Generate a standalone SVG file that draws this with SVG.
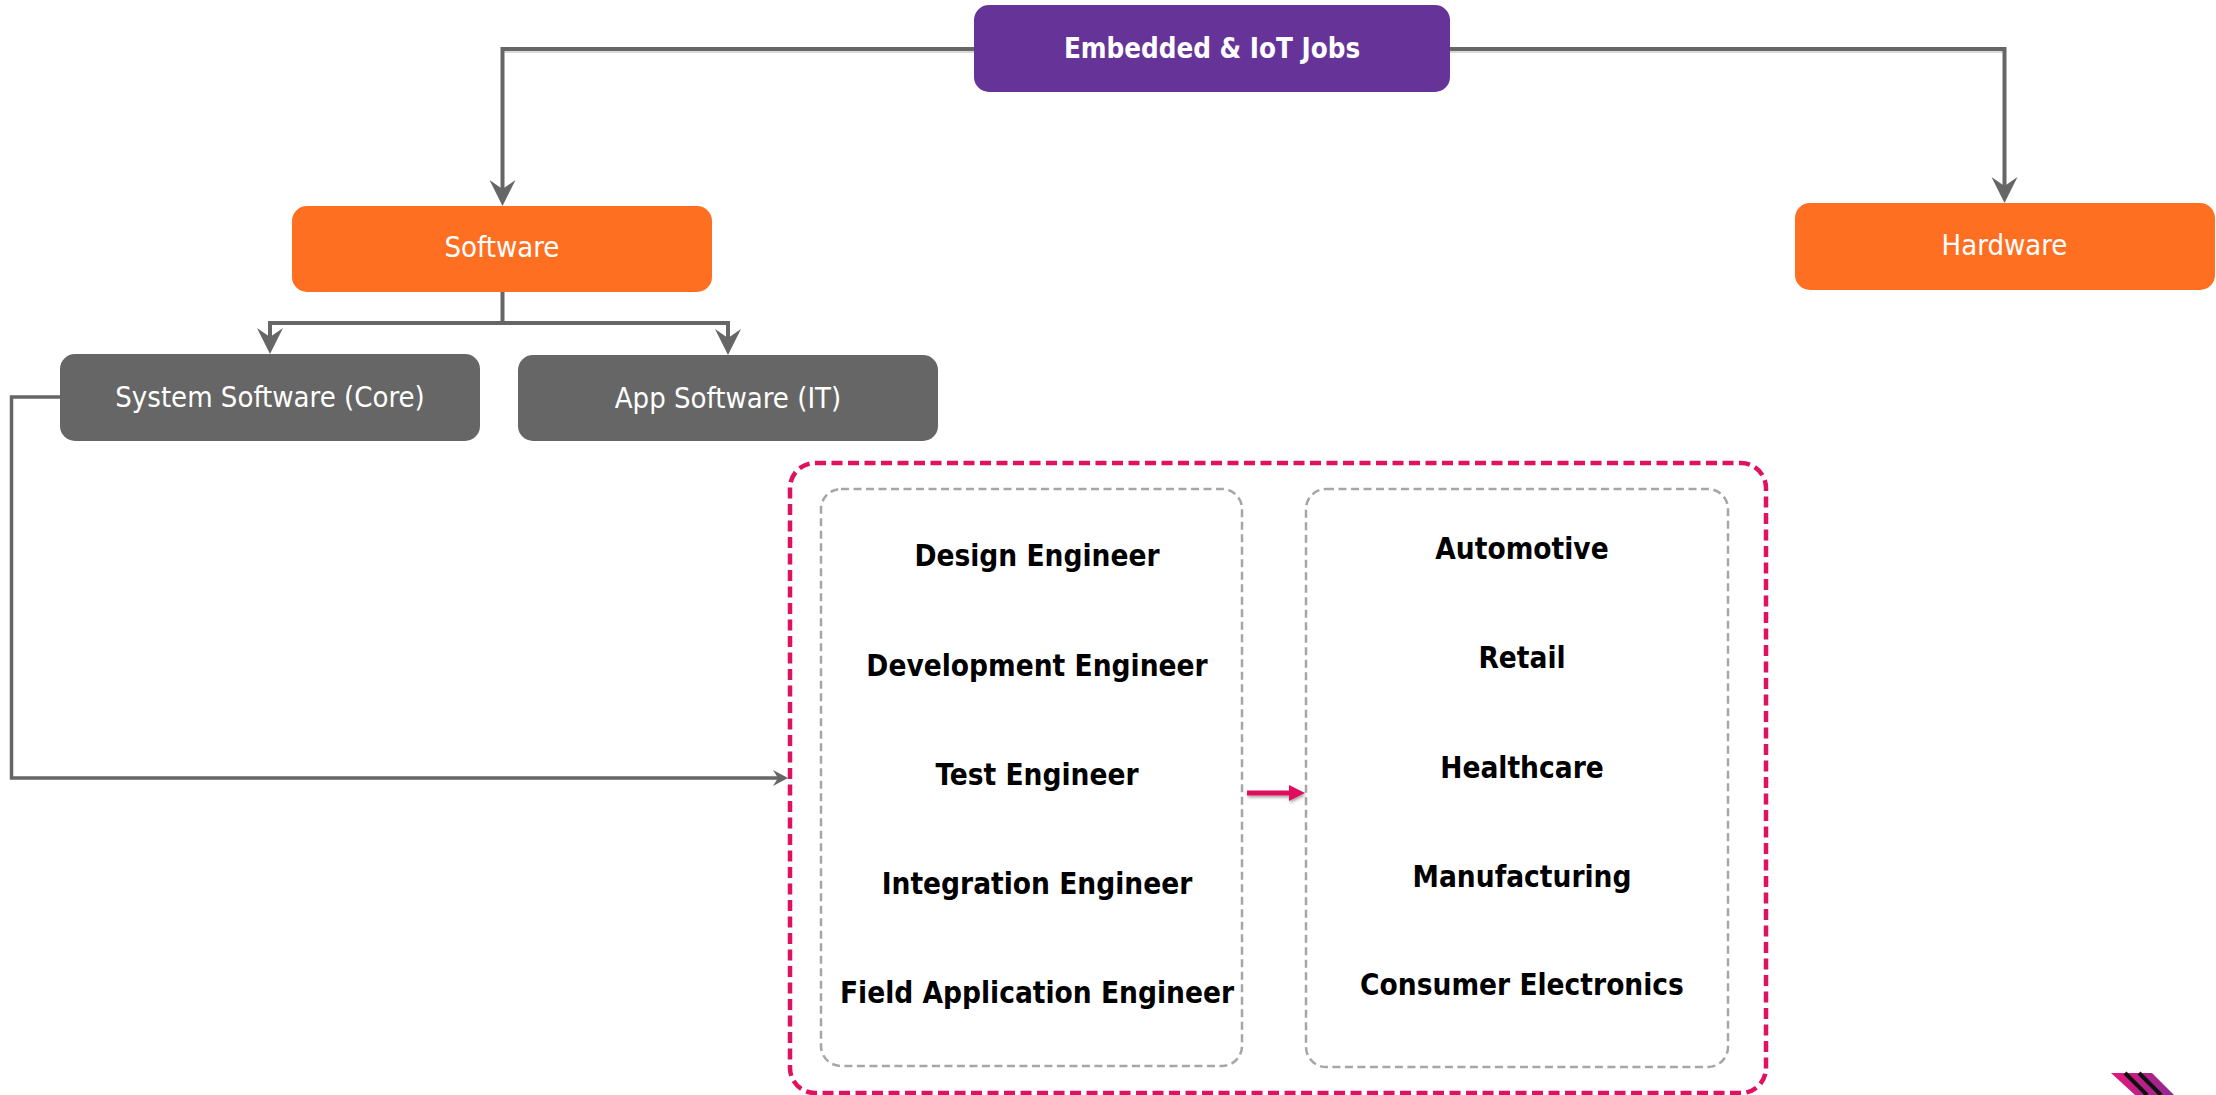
<svg xmlns="http://www.w3.org/2000/svg" width="2216" height="1095" viewBox="0 0 2216 1095">
<style>
text{font-family:"DejaVu Sans",Verdana,sans-serif;text-anchor:middle;font-stretch:condensed}
.w{fill:#fff;font-size:29px}
.k{fill:#000;font-size:29.5px;font-weight:700}
.c{fill:none;stroke:#666;stroke-width:4}
.s{fill:none;stroke:#d9d9d9;stroke-width:2}
.g{fill:#fff;stroke:#a6a6a6;stroke-width:2.5;stroke-dasharray:8 4.5}
</style>
<defs>
<linearGradient id="lg" x1="0" y1="0" x2="1" y2="0"><stop offset="0" stop-color="#e6187c"/><stop offset="1" stop-color="#8b2a8f"/></linearGradient>
<marker id="a" markerUnits="userSpaceOnUse" markerWidth="28" markerHeight="28" refX="14" refY="13" orient="auto"><path d="M0 0L26 13L0 26L9 13Z" fill="#666"/></marker>
<marker id="b" markerUnits="userSpaceOnUse" markerWidth="16" markerHeight="18" refX="7" refY="8" orient="auto"><path d="M0 0L15 8L0 16L5 8Z" fill="#666"/></marker>
<marker id="p" markerUnits="userSpaceOnUse" markerWidth="18" markerHeight="18" refX="3" refY="8" orient="auto"><path d="M0 0L16 8L0 16Z" fill="#e0115f"/></marker>
<filter id="sh" filterUnits="userSpaceOnUse" x="1230" y="770" width="100" height="50"><feDropShadow dx="1" dy="2" stdDeviation="1.5" flood-color="#000" flood-opacity=".35"/></filter>
</defs>
<g id="connectors">
<path class="s" d="M503 52H974M1450 52H2004"/>
<path class="c" d="M974 49H502.5V194" marker-end="url(#a)"/>
<path class="c" d="M1450 49H2004.5V191" marker-end="url(#a)"/>
<path class="c" d="M502.5 292V323H270V342" marker-end="url(#a)"/>
<path class="c" d="M502.5 323H728V343" marker-end="url(#a)"/>
<path class="c" style="stroke-width:3.5" d="M60 397H11.5V778H780" marker-end="url(#b)"/>
</g>
<g id="node-outer"><rect x="790" y="463" width="976" height="630" rx="25" fill="none" stroke="#e0115f" stroke-width="4.5" stroke-dasharray="11 5.5"/></g>
<g id="node-jobs"><rect x="974" y="5" width="476" height="87" rx="15" fill="#663399"/><text class="w" x="1212" y="58" style="font-weight:700;font-size:27.5px">Embedded &amp; IoT Jobs</text></g>
<g id="node-software"><rect x="292" y="206" width="420" height="86" rx="15" fill="#ff6f22"/><text class="w" x="502" y="257">Software</text></g>
<g id="node-hardware"><rect x="1795" y="203" width="420" height="87" rx="15" fill="#ff6f22"/><text class="w" x="2004.5" y="255">Hardware</text></g>
<g id="node-system"><rect x="60" y="354" width="420" height="87" rx="15" fill="#666"/><text class="w" x="270" y="407">System Software (Core)</text></g>
<g id="node-app"><rect x="518" y="355" width="420" height="86" rx="15" fill="#666"/><text class="w" x="728" y="408">App Software (IT)</text></g>
<g id="node-roles"><rect class="g" x="821" y="489" width="421" height="577" rx="20"/>
<text class="k" x="1037" y="566">Design Engineer</text>
<text class="k" x="1037" y="676">Development Engineer</text>
<text class="k" x="1037" y="785">Test Engineer</text>
<text class="k" x="1037" y="894">Integration Engineer</text>
<text class="k" x="1037" y="1003">Field Application Engineer</text></g>
<g id="node-industries"><rect class="g" x="1306" y="489" width="422" height="578" rx="20"/>
<text class="k" x="1522" y="559">Automotive</text>
<text class="k" x="1522" y="668">Retail</text>
<text class="k" x="1522" y="778">Healthcare</text>
<text class="k" x="1522" y="887">Manufacturing</text>
<text class="k" x="1522" y="995">Consumer Electronics</text></g>
<g id="arrow-roles-industries" filter="url(#sh)"><path d="M1247 793H1292" fill="none" stroke="#e0115f" stroke-width="5" marker-end="url(#p)"/></g>
<g id="logo"><path d="M2111 1073H2152L2174 1095H2135Z" fill="url(#lg)"/><path d="M2125 1073L2147 1095M2139 1073L2161 1095" stroke="#111" stroke-width="4" fill="none"/></g>
</svg>
